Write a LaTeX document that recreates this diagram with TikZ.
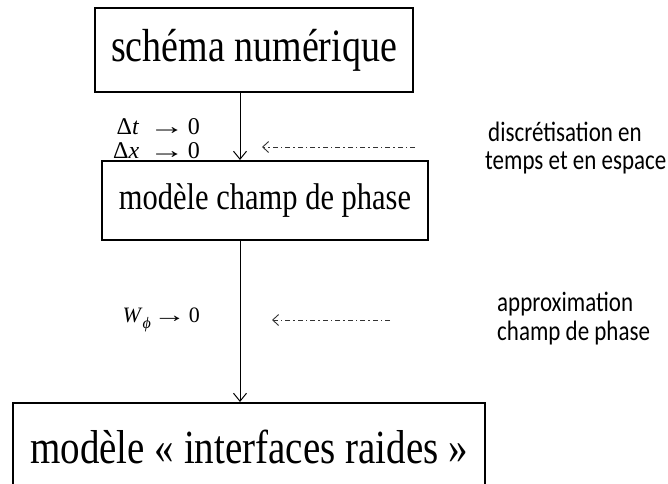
\documentclass[tikz,border=0pt]{standalone}
\usepackage{fontspec}
\setmainfont{Liberation Serif}
\newfontfamily\labfont{Carlito}
\usetikzlibrary{arrows.meta}
\newcommand\tallt[1]{\scalebox{1}[1.22]{#1}}
\newcommand\longarr{\scalebox{1.5}[1]{→}}
\tikzset{
  box/.style={draw=black, line width=2.5pt, inner sep=0pt},
  flow/.style={line width=1pt, -{Straight Barb[length=8pt, width=13pt]}},
  hint/.style={line width=0.9pt, draw=black!80, dash pattern=on 5pt off 3pt on 1.5pt off 3pt, -{Straight Barb[length=6pt, width=11pt]}},
  lab/.style={font=\labfont\fontsize{23}{28}\selectfont, anchor=west, inner sep=0pt},
  mlab/.style={font=\fontsize{24}{28}\selectfont, inner sep=0pt, anchor=east}
}
\begin{document}
\begin{tikzpicture}[x=1pt, y=-1pt]
\useasboundingbox (0,0) rectangle (668,483);
\clip (0,0) rectangle (668,483);
\node[box, minimum width=318pt, minimum height=84pt, font=\fontsize{38}{44}\selectfont] (b1) at (254,50) {\tallt{schéma numérique}};
\node[box, minimum width=326pt, minimum height=79pt, font=\fontsize{30.5}{36}\selectfont] (b2) at (265,200.5) {\tallt{modèle champ de phase}};
\node[box, minimum width=472pt, minimum height=87pt, font=\fontsize{39}{44}\selectfont] (b3) at (249,446.5) {\tallt{modèle « interfaces raides »}};
\coordinate (a1s) at (240,92);
\coordinate (a1e) at (240,160);
\coordinate (a2s) at (240,240);
\coordinate (a2e) at (240,402);
\draw[flow] (a1s) -- (a1e);
\draw[flow] (a2s) -- (a2e);
\node[mlab] (dt) at (200,127) {Δ\textit{t}\hspace{0.4em}\longarr\hspace{0.12em}0};
\node[mlab] (dx) at (200,151) {Δ\textit{x}\hspace{0.4em}\longarr\hspace{0.12em}0};
\node[mlab, font=\fontsize{22}{26}\selectfont] (w) at (200,320) {\textit{W}\raisebox{-0.25em}{\fontsize{16}{20}\selectfont\textit{ϕ}}\hspace{0.1em}\longarr\hspace{0.12em}0};
\coordinate (h1s) at (415,147);
\coordinate (h1e) at (262,147);
\coordinate (h2s) at (390,320);
\coordinate (h2e) at (272,320);
\draw[hint] (h1s) -- (h1e);
\draw[hint] (h2s) -- (h2e);
\node[lab] (t1) at (488,132) {\tallt{discrétisation en}};
\node[lab] (t2) at (485,163) {\tallt{temps et en espace}};
\node[lab] (t3) at (497,304) {\tallt{approximation}};
\node[lab] (t4) at (497,333) {\tallt{champ de phase}};
\end{tikzpicture}
\end{document}
